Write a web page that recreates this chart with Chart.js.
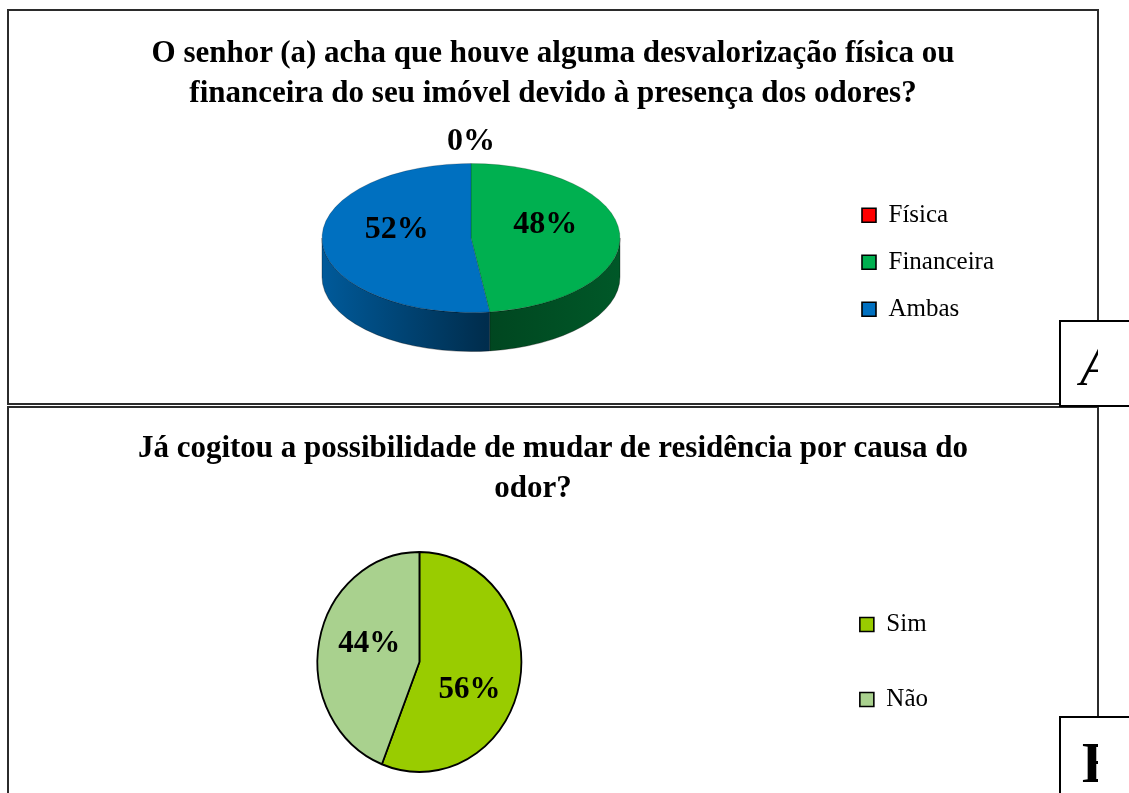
<!DOCTYPE html>
<html>
<head>
<meta charset="utf-8">
<script src="https://cdn.jsdelivr.net/npm/chart.js@4.4.1/dist/chart.umd.min.js"></script>
<style>
  html, body { margin: 0; padding: 0; width: 1129px; height: 793px; overflow: hidden; background: #fff; }
  .painel { position: absolute; left: 7px; width: 1088px; border: 2px solid #2b2b2b; }
  #painelA { top: 9px; height: 392px; }
  #painelB { top: 406px; height: 500px; }
  .titulo { position: absolute; left: 7px; width: 1092px; text-align: center; color: #000;
            font: bold 31px/40px 'Liberation Serif', 'Times New Roman', serif; z-index: 2; }
  #tituloA { top: 32px; }
  #tituloB { top: 427px; }
  #tituloB .linha2 { padding-right: 40px; }
  canvas { position: absolute; z-index: 1; }
  #graficoA { left: 8px; top: 10px; }
  #graficoB { left: 8px; top: 408px; }
  .rotulo { position: absolute; left: 1059px; width: 90px; height: 83px; border: 2px solid #000;
            background: #fff; z-index: 3; }
  #rotuloA { top: 320px; }
  #rotuloB { top: 716px; height: 120px; }
  .rotulo .corte { position: absolute; left: 0; top: 0; width: 37px; height: 100%; overflow: hidden; }
  .rotulo span { position: absolute; left: 19px; font-family: 'Liberation Serif', 'Times New Roman', serif;
                 font-size: 56px; line-height: 56px; color: #000; }
  #rotuloA span { top: 16px; font-style: italic; }
  #rotuloB span { top: 17px; left: 21px; font-weight: bold; }
</style>
</head>
<body>
<div class="painel" id="painelA"></div>
<div class="painel" id="painelB"></div>
<div class="titulo" id="tituloA">O senhor (a) acha que houve alguma desvalorização física ou<br>financeira do seu imóvel devido à presença dos odores?</div>
<div class="titulo" id="tituloB">Já cogitou a possibilidade de mudar de residência por causa do<br><span class="linha2">odor?</span></div>
<canvas id="graficoA" width="1090" height="395"></canvas>
<canvas id="graficoB" width="1090" height="430"></canvas>
<div class="rotulo" id="rotuloA"><div class="corte"><span>A</span></div></div>
<div class="rotulo" id="rotuloB"><div class="corte"><span>B</span></div></div>
<script>
// dados
const categoriasA = ['Física', 'Financeira', 'Ambas'];
const valoresA = [0, 48, 52];
const coresA = ['#FF0000', '#00B050', '#0070C0'];

const categoriasB = ['Sim', 'Não'];
const valoresB = [56, 44];
const coresB = ['#99CC00', '#A9D18E'];

function escurecer(hex, f) {
    const n = parseInt(hex.slice(1), 16);
    const r = Math.round(((n >> 16) & 255) * f);
    const g = Math.round(((n >> 8) & 255) * f);
    const b = Math.round((n & 255) * f);
    return 'rgb(' + r + ',' + g + ',' + b + ')';
}

// achata a pizza (elipse), desenha a lateral 3D e os rótulos de porcentagem
const pizzaInclinada = {
    id: 'inclinada',
    beforeDatasetsDraw(chart, args, opts) {
        const ctx = chart.ctx;
        const arcos = chart.getDatasetMeta(0).data;
        const cx = arcos[0].x, cy = arcos[0].y, R = arcos[0].outerRadius;
        const k = opts.ratio, h = opts.depth || 0;
        const cores = chart.data.datasets[0].backgroundColor;
        if (h > 0) {
            arcos.forEach(function (arc, i) {
                const s = Math.max(arc.startAngle, 0);
                const e = Math.min(arc.endAngle, Math.PI);
                if (e <= s) return;
                ctx.save();
                ctx.beginPath();
                ctx.ellipse(cx, cy, R, R * k, 0, s, e);
                ctx.ellipse(cx, cy + h, R, R * k, 0, e, s, true);
                ctx.closePath();
                const grad = ctx.createLinearGradient(cx - R, 0, cx + R, 0);
                grad.addColorStop(0, escurecer(cores[i], 0.8));
                grad.addColorStop(0.55, escurecer(cores[i], 0.4));
                grad.addColorStop(1, escurecer(cores[i], 0.5));
                ctx.fillStyle = grad;
                ctx.fill();
                ctx.strokeStyle = 'rgba(0,0,0,0.3)';
                ctx.lineWidth = 1;
                ctx.stroke();
                ctx.restore();
            });
        }
        ctx.save();
        ctx.translate(cx, cy);
        ctx.scale(1, k);
        ctx.translate(-cx, -cy);
    },
    afterDatasetsDraw(chart, args, opts) {
        const ctx = chart.ctx;
        ctx.restore();
        const arcos = chart.getDatasetMeta(0).data;
        const valores = chart.data.datasets[0].data;
        const cx = arcos[0].x, cy = arcos[0].y, R = arcos[0].outerRadius;
        ctx.save();
        ctx.font = opts.font;
        ctx.fillStyle = '#000';
        ctx.textAlign = 'center';
        ctx.textBaseline = 'middle';
        arcos.forEach(function (arc, i) {
            const meio = (arc.startAngle + arc.endAngle) / 2;
            const dist = valores[i] === 0 ? R * 1.15 : R * 0.5;
            const x = cx + Math.cos(meio) * dist;
            const y = cy + Math.sin(meio) * dist * opts.ratio * (opts.spreadY || 1) - (opts.lift || 0);
            ctx.fillText(valores[i] + '%', x, y);
        });
        ctx.restore();
    }
};

function legendaComBorda(chart) {
    return Chart.overrides.doughnut.plugins.legend.labels.generateLabels(chart).map(function (l) {
        l.strokeStyle = '#000';
        l.lineWidth = 1.6;
        return l;
    });
}

new Chart(document.getElementById('graficoA'), {
    type: 'pie',
    data: {
        labels: categoriasA,
        datasets: [{
            data: valoresA,
            backgroundColor: coresA,
            borderColor: 'rgba(0,0,0,0.25)',
            borderWidth: 1,
            radius: 149
        }]
    },
    options: {
        responsive: false,
        animation: false,
        layout: { padding: { left: 94, right: 94, top: 100, bottom: 39 } },
        plugins: {
            tooltip: { enabled: false },
            legend: {
                position: 'right',
                title: { display: true, text: '', padding: { top: 0, bottom: 34 }, font: { size: 12 } },
                labels: {
                    boxWidth: 14,
                    boxHeight: 14,
                    padding: 22,
                    color: '#000',
                    font: { family: 'Liberation Serif', size: 25 },
                    generateLabels: legendaComBorda
                }
            },
            inclinada: { ratio: 0.5, depth: 39, lift: 11, font: 'bold 32px "Liberation Serif"' }
        }
    },
    plugins: [pizzaInclinada]
});

new Chart(document.getElementById('graficoB'), {
    type: 'pie',
    data: {
        labels: categoriasB,
        datasets: [{
            data: valoresB,
            backgroundColor: coresB,
            borderColor: '#000',
            borderWidth: 1.8,
            radius: 102
        }]
    },
    options: {
        responsive: false,
        animation: false,
        layout: { padding: { left: 21, right: 160, top: 100, bottom: 22 } },
        plugins: {
            tooltip: { enabled: false },
            legend: {
                position: 'right',
                labels: {
                    boxWidth: 14,
                    boxHeight: 14,
                    padding: 50,
                    color: '#000',
                    font: { family: 'Liberation Serif', size: 25 },
                    generateLabels: legendaComBorda
                }
            },
            inclinada: { ratio: 1.078, depth: 0, spreadY: 2.2, lift: -5, font: 'bold 31px "Liberation Serif"' }
        }
    },
    plugins: [pizzaInclinada]
});
</script>
</body>
</html>
